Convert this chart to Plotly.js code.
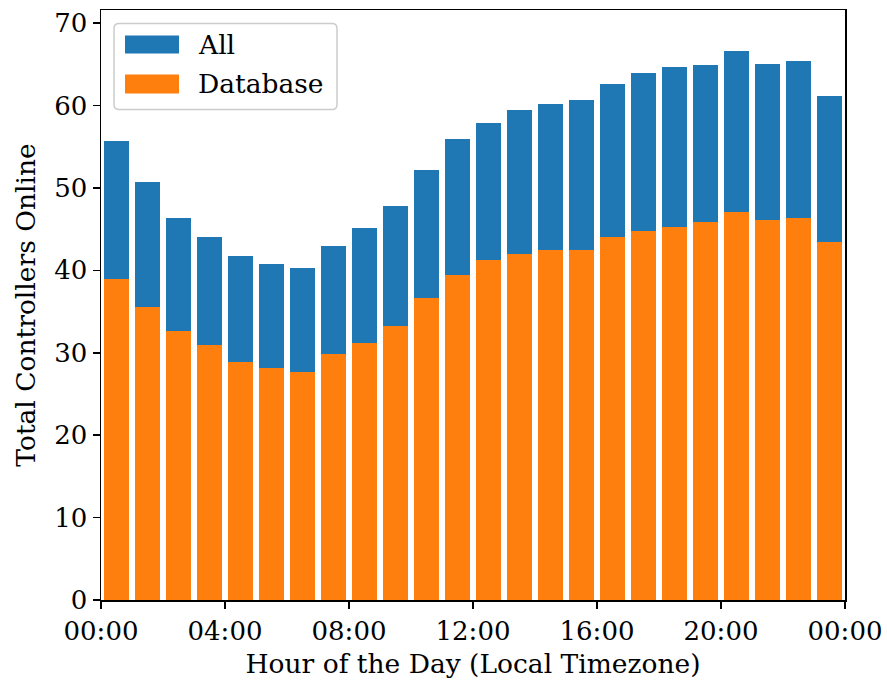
<!DOCTYPE html>
<html>
<head>
<meta charset="utf-8">
<script src="https://cdn.plot.ly/plotly-3.0.1.min.js"></script>
<style>html,body{margin:0;padding:0;background:#fff;}#chart{width:887px;height:684px;}</style>
</head>
<body>
<div id="chart"></div>
<script>
// ---- data ----
const hours = [0,1,2,3,4,5,6,7,8,9,10,11,12,13,14,15,16,17,18,19,20,21,22,23];
const allOnline = [55.7,50.7,46.4,44.0,41.7,40.8,40.3,42.9,45.2,47.8,52.2,56.0,57.9,59.5,60.2,60.7,62.6,63.9,64.7,64.9,66.6,65.0,65.4,61.2];
const databaseOnline = [39.0,35.5,32.6,30.9,28.9,28.1,27.7,29.8,31.2,33.3,36.6,39.5,41.3,42.0,42.5,42.5,44.1,44.8,45.3,45.9,47.1,46.1,46.4,43.4];
const tickHours = [0,4,8,12,16,20,24];
const tickLabels = ['00:00','04:00','08:00','12:00','16:00','20:00','00:00'];
const seriesNames = ['All','Database'];
const colors = ['#1f77b4','#ff7f0e'];

// ---- layout constants ----
const W = 887, H = 684;
const M = {l:101, r:42, t:9.5, b:84};
const PW = W - M.l - M.r, PH = H - M.t - M.b;
const FONT = 'DejaVu Serif';
const FS = 26.5;
const TFS = 26;
const px = x => (x - M.l) / PW;
const py = y => (H - M.b - y) / PH;

function roundRect(x0,y0,x1,y1,r){
  const rx = r/PW, ry = r/PH;
  const X0=px(x0), X1=px(x1), Y0=py(y0), Y1=py(y1);
  return `M ${X0+rx},${Y0} L ${X1-rx},${Y0} Q ${X1},${Y0} ${X1},${Y0-ry} L ${X1},${Y1+ry} Q ${X1},${Y1} ${X1-rx},${Y1} L ${X0+rx},${Y1} Q ${X0},${Y1} ${X0},${Y1+ry} L ${X0},${Y0-ry} Q ${X0},${Y0} ${X0+rx},${Y0} Z`;
}

const traces = [
  {type:'bar', x:hours, y:allOnline, name:seriesNames[0], width:0.8, offset:0.1,
   marker:{color:colors[0], line:{width:0}}, hoverinfo:'y'},
  {type:'bar', x:hours, y:databaseOnline, name:seriesNames[1], width:0.8, offset:0.1,
   marker:{color:colors[1], line:{width:0}}, hoverinfo:'y'}
];

const shapes = [
  {type:'path', xref:'paper', yref:'paper', path:roundRect(114,23,337,109,5),
   fillcolor:'rgba(255,255,255,0.8)', line:{color:'#cccccc', width:1.5}, layer:'above'},
  {type:'rect', xref:'paper', yref:'paper', x0:px(125), x1:px(179), y0:py(53), y1:py(35),
   fillcolor:colors[0], line:{width:0}, layer:'above'},
  {type:'rect', xref:'paper', yref:'paper', x0:px(125), x1:px(179), y0:py(93), y1:py(74),
   fillcolor:colors[1], line:{width:0}, layer:'above'}
];
const annotations = [
  {xref:'paper', yref:'paper', x:px(196), y:py(44), text:seriesNames[0], showarrow:false,
   xanchor:'left', yanchor:'middle', font:{family:FONT, size:FS, color:'#000'}},
  {xref:'paper', yref:'paper', x:px(196), y:py(83), text:seriesNames[1], showarrow:false,
   xanchor:'left', yanchor:'middle', font:{family:FONT, size:FS, color:'#000'}}
];

const axisCommon = {
  showline:true, linecolor:'#000', linewidth:1.5, mirror:true,
  ticks:'outside', ticklen:7, tickwidth:1.5, tickcolor:'#000',
  showgrid:false, zeroline:false,
  tickfont:{family:FONT, size:TFS, color:'#000'}
};

const layout = {
  width:W, height:H,
  margin:M,
  paper_bgcolor:'#fff', plot_bgcolor:'#fff',
  barmode:'overlay', bargap:0,
  showlegend:false,
  font:{family:FONT, size:FS, color:'#000'},
  xaxis:Object.assign({}, axisCommon, {
    range:[0,24], tickmode:'array', tickvals:tickHours, ticktext:tickLabels,
    title:{text:'Hour of the Day (Local Timezone)', font:{family:FONT, size:FS, color:'#000'}, standoff:9}
  }),
  yaxis:Object.assign({}, axisCommon, {
    range:[0,71.6], tickmode:'array', tickvals:[0,10,20,30,40,50,60,70],
    title:{text:'Total Controllers Online', font:{family:FONT, size:FS, color:'#000'}, standoff:11}
  }),
  shapes:shapes,
  annotations:annotations
};

Plotly.newPlot('chart', traces, layout, {staticPlot:true, displayModeBar:false});
</script>
</body>
</html>
